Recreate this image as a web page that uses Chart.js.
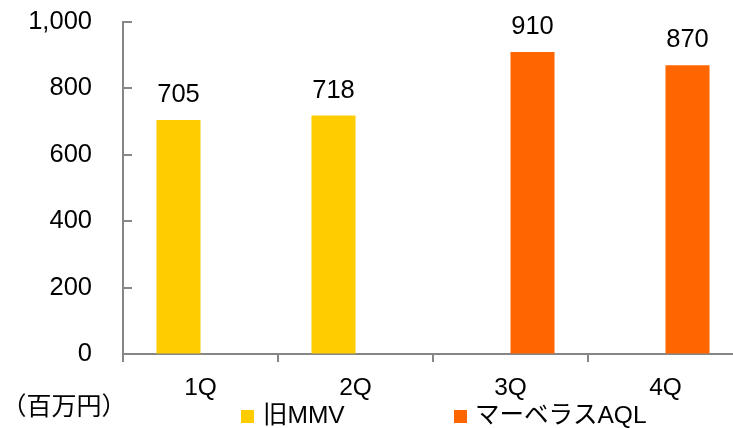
<!DOCTYPE html>
<html>
<head>
<meta charset="utf-8">
<script src="https://cdn.jsdelivr.net/npm/chart.js@4/dist/chart.umd.min.js"></script>
<style>
  html, body { margin: 0; padding: 0; background: #fff; overflow: hidden; }
  #wrap { width: 733px; height: 428px; overflow: hidden; position: relative; }
  canvas { display: block; }
</style>
</head>
<body>
<div id="wrap"><canvas id="chart" width="760" height="428"></canvas></div>
<script>
// Quarterly figures (百万円)
const categories = ['1Q', '2Q', '3Q', '4Q'];
const seriesNames = ['旧MMV', 'マーベラスAQL'];
const oldMMV = [705, 718, null, null];
const marvelousAQL = [null, null, 910, 870];
const yTickValues = [0, 200, 400, 600, 800, 1000];
const unitLabel = '（百万円）';

const YELLOW = '#FFCC00';
const ORANGE = '#FF6600';
const AXIS = '#868686';
const LATIN = "'Liberation Sans', Arial, 'Noto Sans CJK JP', sans-serif";
const CJK = "'Noto Sans CJK JP', 'Liberation Sans', sans-serif";

// Inward tick marks on the value axis
const innerTicks = {
  id: 'innerTicks',
  afterDraw(chart) {
    const { ctx } = chart;
    const y = chart.scales.y;
    ctx.save();
    ctx.strokeStyle = AXIS;
    ctx.lineWidth = 2;
    ctx.beginPath();
    y.ticks.forEach(t => {
      const py = Math.round(y.getPixelForValue(t.value));
      ctx.moveTo(y.right, py);
      ctx.lineTo(y.right + 9, py);
    });
    ctx.stroke();
    ctx.restore();
  }
};

// Value labels above each bar
const valueLabels = {
  id: 'valueLabels',
  afterDatasetsDraw(chart) {
    const { ctx } = chart;
    ctx.save();
    ctx.font = `25.5px ${LATIN}`;
    ctx.fillStyle = '#000';
    ctx.textAlign = 'center';
    ctx.textBaseline = 'alphabetic';
    chart.data.datasets.forEach((ds, i) => {
      chart.getDatasetMeta(i).data.forEach((bar, j) => {
        const v = ds.data[j];
        if (v === null || v === undefined) return;
        ctx.fillText(v.toLocaleString('en-US'), bar.x, bar.y - 18);
      });
    });
    ctx.restore();
  }
};

// Unit caption and legend row under the category axis
const footer = {
  id: 'footer',
  afterDraw(chart) {
    const { ctx } = chart;
    ctx.save();
    ctx.fillStyle = '#000';
    ctx.font = `25px ${CJK}`;
    ctx.textAlign = 'center';
    ctx.textBaseline = 'middle';
    ctx.fillText(unitLabel, 64, 405);

    const items = [
      { box: 241, text: 263 },
      { box: 454, text: 475 }
    ];
    chart.data.datasets.forEach((ds, i) => {
      const it = items[i];
      ctx.fillStyle = ds.backgroundColor;
      ctx.fillRect(it.box, 410, 13, 13);
      ctx.fillStyle = '#000';
      ctx.font = `24.5px ${LATIN}`;
      ctx.textAlign = 'left';
      ctx.textBaseline = 'alphabetic';
      ctx.fillText(ds.label, it.text, 423);
    });
    ctx.restore();
  }
};

new Chart(document.getElementById('chart'), {
  type: 'bar',
  data: {
    labels: categories,
    datasets: [
      { label: seriesNames[0], data: oldMMV, backgroundColor: YELLOW },
      { label: seriesNames[1], data: marvelousAQL, backgroundColor: ORANGE }
    ]
  },
  options: {
    responsive: false,
    animation: false,
    devicePixelRatio: 1,
    layout: { padding: { top: 22, right: 17, left: 0, bottom: 0 } },
    datasets: { bar: { categoryPercentage: 0.568, barPercentage: 1.0 } },
    plugins: {
      legend: { display: false },
      tooltip: { enabled: false }
    },
    scales: {
      x: {
        grid: {
          drawOnChartArea: false,
          offset: true,
          color: AXIS,
          lineWidth: 2,
          tickLength: 8
        },
        border: { color: AXIS, width: 2 },
        ticks: {
          color: '#000',
          font: { family: LATIN, size: 24.5 },
          padding: 12
        },
        afterFit(s) { s.height = 74; s.paddingLeft = 0; s.paddingRight = 0; }
      },
      y: {
        min: 0,
        max: 1000,
        afterBuildTicks(s) { s.ticks = yTickValues.map(v => ({ value: v })); },
        grid: { drawOnChartArea: false, drawTicks: false },
        border: { color: AXIS, width: 2 },
        ticks: {
          color: '#000',
          font: { family: LATIN, size: 25.5 },
          padding: 31,
          callback: v => v.toLocaleString('en-US')
        },
        afterFit(s) { s.width = 123; s.paddingTop = 0; s.paddingBottom = 0; }
      }
    }
  },
  plugins: [innerTicks, valueLabels, footer]
});
</script>
</body>
</html>
